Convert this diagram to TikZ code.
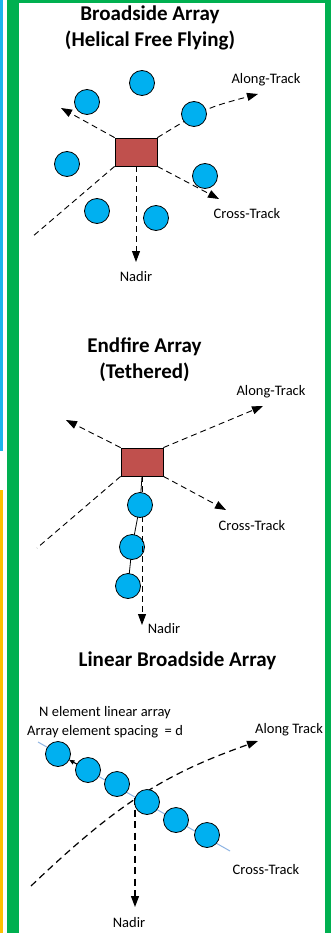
\documentclass[tikz,border=0pt]{standalone}
\usepackage{fontspec}
\setmainfont{Carlito}
\usetikzlibrary{arrows.meta}
\definecolor{cyanfill}{HTML}{00B0F0}
\definecolor{brick}{HTML}{C0504D}
\definecolor{frameg}{HTML}{00B050}
\definecolor{barblue}{HTML}{1CB4EE}
\definecolor{baryel}{HTML}{FFC000}
\definecolor{arrline}{HTML}{8EB4E3}
\begin{document}
\begin{tikzpicture}[x=1pt,y=-1pt,
 elem/.style={circle,draw=black,fill=cyanfill,line width=0.8pt,minimum size=25pt,inner sep=0pt},
 craft/.style={draw=black,fill=brick,line width=0.8pt,minimum width=42pt,minimum height=28pt,inner sep=0pt},
 axis/.style={line width=0.9pt,dash pattern=on 6pt off 4pt},
 axisarrow/.style={axis,-{Triangle[length=11pt,width=8pt]}},
 axisb/.style={line width=1.2pt,dash pattern=on 7pt off 4.5pt},
 axisbarrow/.style={axisb,-{Triangle[length=11pt,width=8pt]}},
 tether/.style={line width=0.8pt},
 lbl/.style={font=\fontsize{14.5}{17}\selectfont,inner sep=0pt},
 ttl/.style={font=\fontsize{21}{26}\selectfont\bfseries,inner sep=0pt,align=center},
]
\useasboundingbox (0,0) rectangle (331,933);
\fill[white] (0,0) rectangle (331,933);

% ---------- Panel 1 ----------
\node[ttl] (t1) at (150,28) {Broadside Array\\(Helical Free Flying)};
\node[craft] (r1) at (136,152) {};
\coordinate (ul1) at (61,108);
\coordinate (at1) at (258,94);
\coordinate (ct1) at (219,199);
\coordinate (nd1) at (136,262);
\coordinate (bl1) at (32,237);
\draw[axisarrow] (r1.north west) -- (ul1);
\draw[axisarrow] (r1.north east) .. controls (206,108) .. (at1);
\draw[axisarrow] (r1.south east) -- (ct1);
\draw[axisarrow] (r1.south) -- (nd1);
\draw[axis] (r1.south west) -- (bl1);
\node[elem] (e11) at (142,83) {};
\node[elem] (e12) at (87,102) {};
\node[elem] (e13) at (194,114) {};
\node[elem] (e14) at (67,164) {};
\node[elem] (e15) at (205,176) {};
\node[elem] (e16) at (97,211) {};
\node[elem] (e17) at (156,218) {};
\node[lbl] (la1) at (266,80) {Along-Track};
\node[lbl] (lc1) at (247,214) {Cross-Track};
\node[lbl] (ln1) at (136,277) {Nadir};

% ---------- Panel 2 ----------
\node[ttl] (t2) at (144.5,360) {Endfire Array\\(Tethered)};
\node[craft] (r2) at (142,462) {};
\coordinate (ul2) at (66,420);
\coordinate (at2) at (263,406);
\coordinate (ct2) at (226,510);
\coordinate (nd2) at (142,625);
\coordinate (bl2) at (37,548);
\coordinate (c21) at (140,505);
\coordinate (c22) at (132,547);
\coordinate (c23) at (128,586);
\draw[axisarrow] (r2.north west) -- (ul2);
\draw[axisarrow] (r2.north east) -- (at2);
\draw[axisarrow] (r2.south east) -- (ct2);
\draw[axis] (r2.south west) -- (bl2);
\draw[tether] (r2.south) -- (c21) -- (c22) -- (c23);
\node[elem] (e22) at (c22) {};
\node[elem] (e23) at (c23) {};
\draw[axisarrow] (r2.south) -- (nd2);
\node[elem] (e21) at (c21) {};
\node[lbl] (la2) at (271,392) {Along-Track};
\node[lbl] (lc2) at (252,526) {Cross-Track};
\node[lbl] (ln2) at (164,629) {Nadir};

% ---------- Panel 3 ----------
\node[ttl] (t3) at (177.5,661) {Linear Broadside Array};
\node[lbl] (n3a) at (105,713) {N element linear array};
\node[lbl] (n3b) at (105,732) {Array element spacing\ \ = d};
\coordinate (la) at (38,742);
\coordinate (lb) at (230,851);
\draw[arrline,line width=1pt] (la) -- (lb);
\coordinate (x3) at (135,798);
\coordinate (bl3) at (31,886);
\coordinate (at3) at (258,741);
\coordinate (nd3) at (135,907);
\draw[axisbarrow] (bl3) .. controls (121,800) and (168,773) .. (at3);
\draw[axisbarrow] (x3) -- (nd3);
\coordinate (c32) at (88,770);
\node[elem] (e31) at (58,754) {};
\draw[line width=1pt,-{Triangle[length=5pt,width=4.5pt]}] (c32) -- (e31);
\node[elem] (e32) at (c32) {};
\node[elem] (e33) at (117,784) {};
\node[elem] (e34) at (147,802) {};
\node[elem] (e35) at (176,820) {};
\node[elem] (e36) at (207,835) {};
\node[lbl,anchor=west] (la3) at (255,730) {Along Track};
\node[lbl] (lc3) at (266,870) {Cross-Track};
\node[lbl] (ln3) at (129,923) {Nadir};

% ---------- Frame ----------
\fill[barblue] (0,0) rectangle (3,451);
\fill[baryel] (0,490) rectangle (3,933);
\fill[frameg] (7,0) rectangle (19,933);
\fill[frameg] (7,0) rectangle (331,3);
\fill[frameg] (325,0) rectangle (331,933);
\end{tikzpicture}
\end{document}
